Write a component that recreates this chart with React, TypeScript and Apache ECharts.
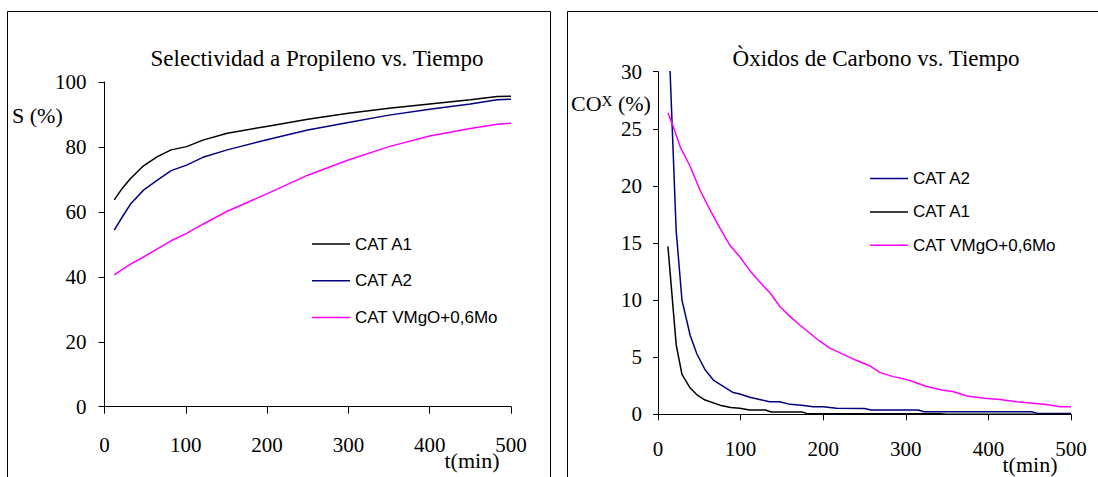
import React, { useEffect, useRef } from "react";
import * as echarts from "echarts";

// ---- Data: Selectividad a Propileno vs. Tiempo ----
const selTimes = [12, 22, 32, 48, 65, 82, 101, 121, 151, 201, 250, 300, 350, 400, 450, 483, 500];
const selA1 = [63.7, 67.3, 70.3, 74.2, 77.0, 79.1, 80.1, 82.1, 84.2, 86.4, 88.5, 90.4, 91.9, 93.2, 94.5, 95.5, 95.6];
const selA2 = [54.4, 58.5, 62.4, 66.7, 69.8, 72.7, 74.4, 76.8, 79.1, 82.3, 85.2, 87.5, 89.8, 91.6, 93.2, 94.5, 94.7];
const selVMgO = [40.6, 42.3, 43.9, 46.1, 48.6, 51.1, 53.4, 56.2, 60.2, 65.7, 71.3, 76.0, 80.1, 83.4, 85.7, 87.0, 87.3];

// ---- Data: Òxidos de Carbono vs. Tiempo ----
const coxTimesA2 = [12, 22, 29, 39, 47, 57, 67, 79, 91, 99, 111, 123, 135, 147, 160, 174, 188, 200, 216, 250, 258, 315, 322, 452, 460, 500];
const coxA2 = [35, 16.1, 10.0, 6.9, 5.3, 3.9, 3.0, 2.45, 1.9, 1.78, 1.5, 1.3, 1.1, 1.1, 0.87, 0.8, 0.67, 0.67, 0.52, 0.5, 0.38, 0.38, 0.22, 0.22, 0.08, 0.08];
const coxTimesA1 = [12, 22, 29, 39, 48, 57, 75, 88, 99, 111, 130, 137, 174, 180, 340, 350, 500];
const coxA1 = [14.7, 6.1, 3.5, 2.3, 1.65, 1.25, 0.8, 0.6, 0.52, 0.38, 0.38, 0.2, 0.2, 0.08, 0.05, 0, 0];
const coxTimesVMgO = [12, 18, 27, 39, 51, 63, 75, 87, 99, 111, 123, 136, 148, 160, 172, 184, 196, 208, 220, 239, 255, 269, 285, 298, 311, 324, 345, 357, 374, 395, 414, 434, 454, 470, 487, 500];
const coxVMgO = [26.4, 25.3, 23.4, 21.7, 19.6, 17.9, 16.3, 14.8, 13.8, 12.6, 11.6, 10.6, 9.4, 8.55, 7.8, 7.1, 6.4, 5.8, 5.4, 4.75, 4.3, 3.65, 3.3, 3.1, 2.8, 2.45, 2.1, 2.0, 1.6, 1.4, 1.3, 1.1, 0.96, 0.85, 0.67, 0.67];

const NAME_A1 = "CAT A1";
const NAME_A2 = "CAT A2";
const NAME_VMGO = "CAT VMgO+0,6Mo";
const COLOR_A1 = "#000000";
const COLOR_A2 = "#000080";
const COLOR_VMGO = "#FF00FF";

const SERIF = "Liberation Serif";
const SANS = "Liberation Sans";

const pairs = (xs: number[], ys: number[]) => xs.map((x, i) => [x, ys[i]]);

function lineSeries(name: string, color: string, data: number[][]) {
  return {
    type: "line",
    name,
    data,
    symbol: "none",
    showSymbol: false,
    itemStyle: { color },
    lineStyle: { color, width: 1.5 },
    clip: true,
  };
}

function valueAxis(min: number, max: number, interval: number, tickLen: number, margin: number) {
  return {
    type: "value",
    min,
    max,
    interval,
    splitLine: { show: false },
    axisLine: { show: true, lineStyle: { color: "#000" } },
    axisTick: { show: true, length: tickLen, lineStyle: { color: "#000" } },
    axisLabel: { fontSize: 21, fontFamily: SERIF, color: "#000", margin },
  };
}

function legendOpt(names: string[], left: number, top: number, itemGap: number) {
  return {
    data: names,
    orient: "vertical",
    left,
    top,
    padding: 0,
    itemGap,
    icon: "rect",
    itemWidth: 38,
    itemHeight: 1.5,
    selectedMode: false,
    textStyle: { fontSize: 17, fontFamily: SANS, color: "#000000", lineHeight: 17 },
  };
}

const serifText = (text: string, x: number, y: number, align: string, size: number) => ({
  type: "text",
  x,
  y,
  silent: true,
  style: { text, fontSize: size, fontFamily: SERIF, fill: "#000", align, verticalAlign: "middle" },
});

const border = (x: number, width: number) => ({
  type: "rect",
  silent: true,
  shape: { x, y: 11.5, width, height: 520 },
  style: { fill: "none", stroke: "#000", lineWidth: 1 },
});

export default function App() {
  const leftRef = useRef<HTMLDivElement>(null);
  const rightRef = useRef<HTMLDivElement>(null);

  useEffect(() => {
    document.body.style.margin = "0";
    if (!leftRef.current || !rightRef.current) return;
    const left = echarts.init(leftRef.current, undefined, { renderer: "svg" });
    const right = echarts.init(rightRef.current, undefined, { renderer: "svg" });

    left.setOption({
      animation: false,
      backgroundColor: "#ffffff",
      grid: { left: 104.5, top: 82, width: 406.5, height: 324.7 },
      xAxis: valueAxis(0, 500, 100, 7, 28),
      yAxis: valueAxis(0, 100, 20, 6, 18),
      legend: legendOpt([NAME_A1, NAME_A2, NAME_VMGO], 312, 235.5, 19.7),
      series: [
        lineSeries(NAME_A1, COLOR_A1, pairs(selTimes, selA1)),
        lineSeries(NAME_A2, COLOR_A2, pairs(selTimes, selA2)),
        lineSeries(NAME_VMGO, COLOR_VMGO, pairs(selTimes, selVMgO)),
      ],
      graphic: [
        border(7.5, 543),
        serifText("Selectividad a Propileno vs. Tiempo", 317, 58, "center", 23),
        serifText("S (%)", 12, 115, "left", 22),
        serifText("t(min)", 472, 460, "center", 22),
      ],
    });

    right.setOption({
      animation: false,
      backgroundColor: "#ffffff",
      grid: { left: 99, top: 71.7, width: 413, height: 342.6 },
      xAxis: valueAxis(0, 500, 100, 6, 24),
      yAxis: valueAxis(0, 30, 5, 5, 16),
      legend: legendOpt([NAME_A2, NAME_A1, NAME_VMGO], 311, 170, 16.4),
      series: [
        lineSeries(NAME_A2, COLOR_A2, pairs(coxTimesA2, coxA2)),
        lineSeries(NAME_A1, COLOR_A1, pairs(coxTimesA1, coxA1)),
        lineSeries(NAME_VMGO, COLOR_VMGO, pairs(coxTimesVMgO, coxVMgO)),
      ],
      graphic: [
        border(8.5, 600),
        serifText("Òxidos de Carbono vs. Tiempo", 317, 58, "center", 23),
        {
          type: "text",
          x: 12,
          y: 103,
          silent: true,
          style: {
            text: "{a|CO}{b|X}{a| (%)}",
            fill: "#000",
            align: "left",
            verticalAlign: "middle",
            rich: {
              a: { fontSize: 22, fontFamily: SERIF, fill: "#000" },
              b: { fontSize: 15, fontFamily: SERIF, fill: "#000", padding: [0, 0, 4, 0] },
            },
          },
        },
        serifText("t(min)", 471, 464, "center", 22),
      ],
    });

    return () => {
      left.dispose();
      right.dispose();
    };
  }, []);

  return (
    <div style={{ position: "relative", width: 1098, height: 477, overflow: "hidden" }}>
      <div ref={leftRef} style={{ position: "absolute", left: 0, top: 0, width: 559, height: 477 }} />
      <div ref={rightRef} style={{ position: "absolute", left: 559, top: 0, width: 539, height: 477 }} />
    </div>
  );
}
